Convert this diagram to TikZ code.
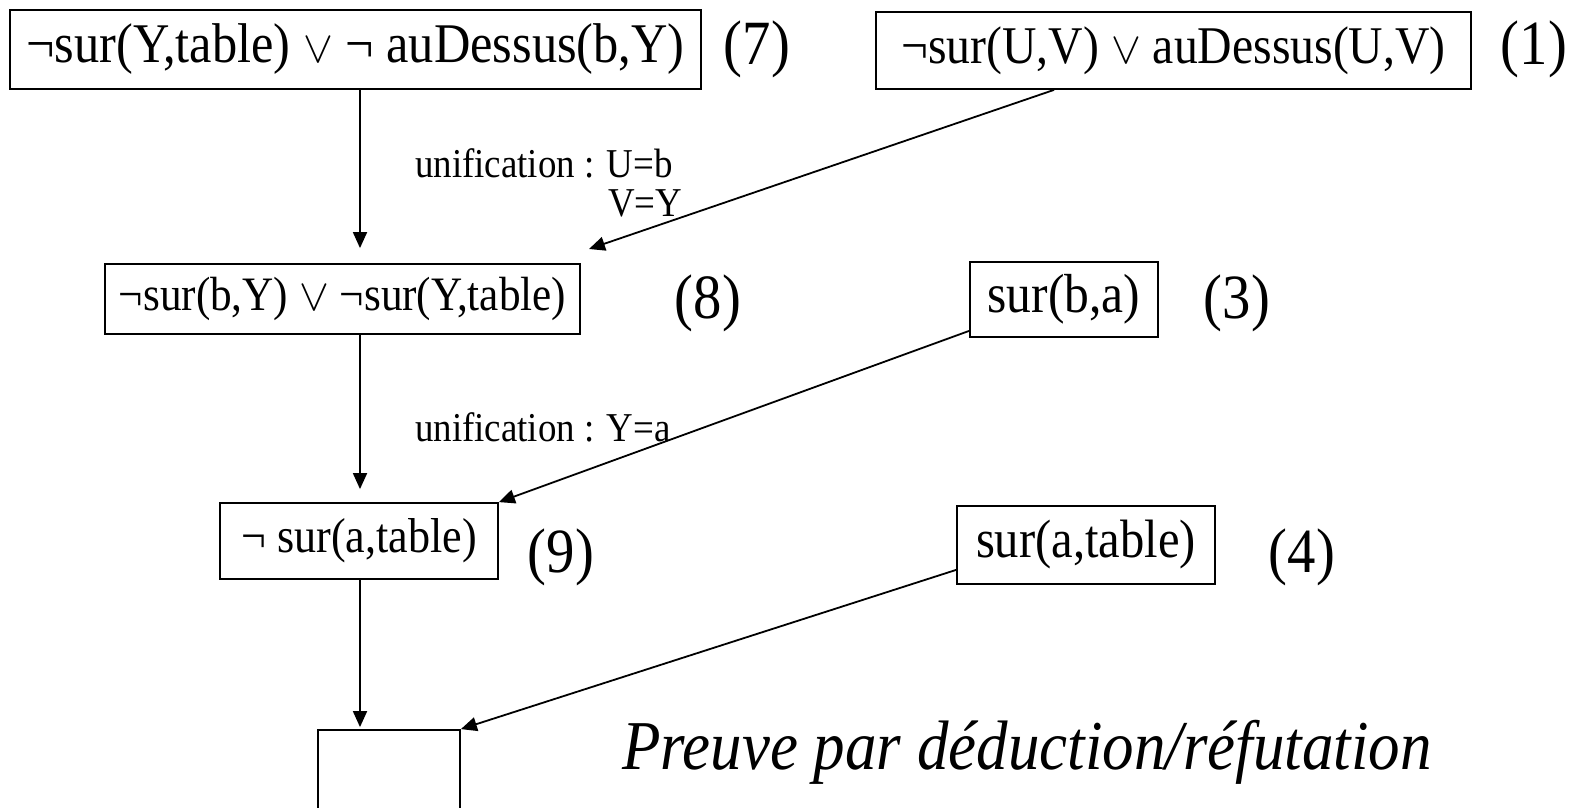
\documentclass[tikz,border=0pt]{standalone}
\usepackage{graphicx}
\usepackage{fontspec}
\setmainfont{Liberation Serif}[FakeStretch=0.9]
\usetikzlibrary{arrows.meta}

\newcommand{\ou}{\scalebox{1.8}{$\vee$}}

\tikzset{
  clause/.style={draw, line width=1.8pt, inner sep=0pt},
  num/.style={font=\fontsize{63}{70}\selectfont, inner sep=0pt},
  unif/.style={font=\fontsize{41}{46}\selectfont, anchor=west, inner sep=0pt},
  arr/.style={line width=1.8pt, -{Triangle[length=16pt,width=14pt]}}
}

\begin{document}
\begin{tikzpicture}[x=1pt,y=-1pt]
    \clip (0,0) rectangle (1593,808);
    % clauses
    \node[clause, minimum width=691pt, minimum height=79pt, font=\fontsize{56}{60}\selectfont] (c7) at (355.5,49.5) {¬sur(Y,table) \ou{} ¬ auDessus(b,Y)};
    \node[clause, minimum width=595pt, minimum height=77pt, font=\fontsize{53}{60}\selectfont] (c1) at (1173.5,50.5) {¬sur(U,V) \ou{} auDessus(U,V)};
    \node[clause, minimum width=475pt, minimum height=70pt, font=\fontsize{48}{54}\selectfont] (c8) at (342.5,299) {¬sur(b,Y) \ou{} ¬sur(Y,table)};
    \node[clause, minimum width=188pt, minimum height=75pt, font=\fontsize{55}{60}\selectfont] (c3) at (1064,299.5) {sur(b,a)};
    \node[clause, minimum width=278pt, minimum height=76pt, font=\fontsize{49}{55}\selectfont] (c9) at (359,541) {¬ sur(a,table)};
    \node[clause, minimum width=258pt, minimum height=78pt, font=\fontsize{54}{60}\selectfont] (c4) at (1086,545) {sur(a,table)};
    \node[clause, minimum width=142pt, minimum height=100pt] (vide) at (389,780) {};
    % numbers
    \node[num] (l7) at (757,49) {(7)};
    \node[num] (l1) at (1534,49) {(1)};
    \node[num] (l8) at (708,303) {(8)};
    \node[num] (l3) at (1237,303) {(3)};
    \node[num] (l9) at (561,557) {(9)};
    \node[num] (l4) at (1302,557) {(4)};
    % unifications
    \node[unif] (u1) at (415,163) {unification : U=b};
    \node[unif] (u2) at (608,203) {V=Y};
    \node[unif] (u3) at (415,427) {unification : Y=a};
    \node[anchor=west, inner sep=0pt, font=\fontsize{70}{80}\selectfont\itshape] (titre) at (622,752) {Preuve par déduction/réfutation};
    % arrows
    \coordinate (axe) at (360,0);
    \coordinate (tip8) at (589,249);
    \draw[arr, shorten >=15pt] (c7.south -| axe) -- (c8.north -| axe);
    \draw[arr] ([xshift=-119.5pt]c1.south) -- (tip8);
    \draw[arr, shorten >=13pt] (c8.south -| axe) -- (c9.north -| axe);
    \draw[arr] ([yshift=7pt]c3.south west) -- (c9.north east);
    \draw[arr, shorten >=2pt] (c9.south -| axe) -- (vide.north -| axe);
    \draw[arr] ([yshift=15pt]c4.south west) -- (vide.north east);
\end{tikzpicture}
\end{document}
